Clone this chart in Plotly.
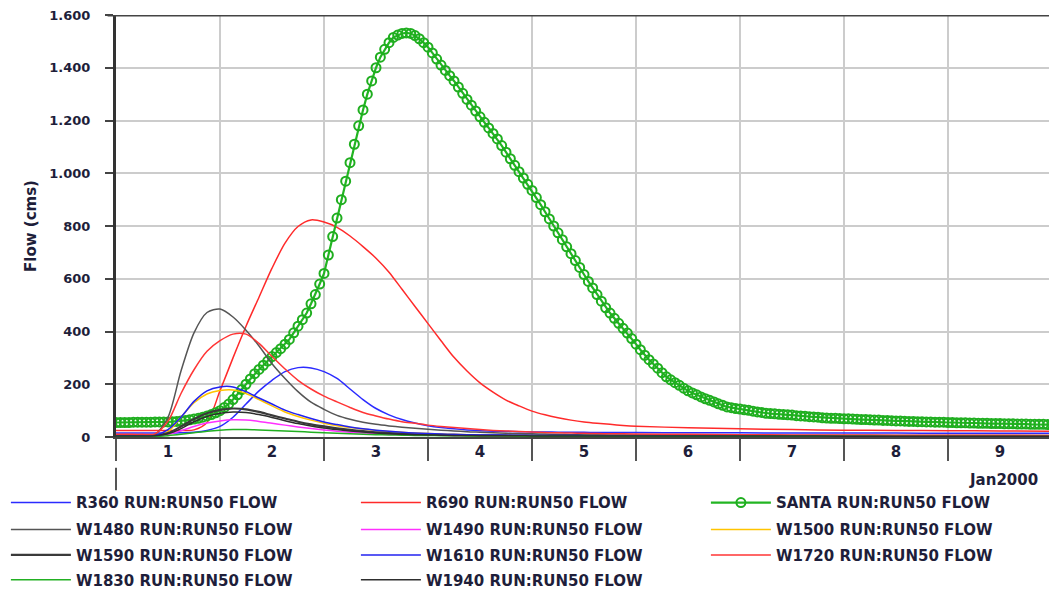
import pandas as pd
import plotly.graph_objects as go

# ---------------- data (hours after 2000-01-01 00:00) ----------------
SANTA_H = list(range(0, 217))
SANTA = [55, 55, 55, 55, 56, 56, 56, 56, 56, 57, 57, 57, 57, 58, 59, 61, 63, 65, 68, 71,
         75, 80, 85, 92, 100, 112, 125, 142, 160, 180, 200, 220, 240, 256, 272, 288, 305, 320, 335, 352,
         370, 395, 420, 445, 470, 505, 540, 580, 620, 690, 760, 830, 900, 970, 1040, 1110, 1180, 1240, 1300, 1350,
         1400, 1440, 1470, 1495, 1515, 1524, 1530, 1532, 1530, 1522, 1510, 1495, 1478, 1456, 1433, 1410, 1390, 1370, 1350, 1327,
         1303, 1280, 1258, 1236, 1214, 1193, 1172, 1151, 1130, 1105, 1080, 1055, 1030, 1006, 982, 958, 935, 908, 881, 854,
         827, 800, 774, 748, 721, 695, 669, 643, 616, 590, 565, 540, 515, 490, 470, 450, 431, 412, 394, 373,
         352, 331, 310, 293, 277, 261, 244, 228, 217, 206, 196, 185, 175, 167, 160, 152, 145, 139, 133, 126,
         120, 114, 111, 108, 106, 103, 101, 98, 95, 93, 90, 89, 88, 86, 85, 84, 83, 81, 80, 79,
         77, 76, 75, 73, 72, 71, 71, 70, 69, 69, 68, 67, 66, 66, 65, 64, 64, 63, 63, 62,
         61, 61, 60, 59, 59, 58, 58, 57, 57, 56, 56, 56, 55, 55, 54, 54, 54, 53, 53, 52,
         52, 52, 51, 51, 51, 50, 50, 50, 49, 49, 49, 48, 48, 48, 48, 47, 47]

TH = [0, 3, 6, 9, 12, 15, 18, 21, 24, 27, 30, 33, 36, 39, 42, 45, 48, 51, 54, 57,
      60, 63, 66, 69, 72, 75, 78, 81, 84, 87, 90, 93, 96, 99, 102, 105, 108, 111, 114, 117,
      120, 132, 144, 156, 168, 180, 192, 204, 216]

R360 = [15, 15, 15, 15, 15, 16, 18, 25, 40, 75, 125, 175, 215, 248, 263, 262, 248, 222, 182, 142,
        108, 84, 66, 53, 43, 36, 31, 27, 24, 22, 21, 20, 19, 19, 18, 18, 18, 17, 17, 17,
        17, 16, 16, 15, 15, 15, 14, 14, 14]
R690 = [25, 25, 25, 25, 25, 25, 27, 55, 175, 300, 420, 530, 640, 735, 798, 823, 815, 795, 762, 722,
        678, 625, 560, 495, 430, 365, 302, 250, 205, 170, 140, 118, 98, 84, 73, 64, 57, 52, 48, 44,
        41, 35, 31, 28, 26, 25, 24, 23, 22]
W1480 = [5, 5, 5, 10, 75, 250, 395, 472, 485, 455, 405, 345, 278, 222, 172, 132, 105, 82, 67, 56,
         48, 42, 37, 33, 29, 26, 23, 20, 18, 16, 14, 13, 12, 11, 10, 9, 8, 8, 7, 7,
         7, 6, 6, 5, 5, 5, 5, 5, 5]
W1490 = [3, 3, 3, 4, 10, 24, 40, 53, 61, 65, 64, 59, 52, 45, 38, 32, 27, 22, 18, 15,
         13, 11, 10, 9, 8, 7, 6, 6, 5, 5, 5, 4, 4, 4, 4, 4, 4, 4, 4, 4,
         4, 3, 3, 3, 3, 3, 3, 3, 3]
W1500 = [3, 3, 3, 4, 20, 75, 130, 163, 176, 178, 165, 142, 118, 95, 78, 64, 52, 43, 36, 30,
         25, 21, 18, 15, 13, 11, 10, 9, 8, 7, 6, 6, 5, 5, 5, 4, 4, 4, 4, 4,
         4, 3, 3, 3, 3, 3, 3, 3, 3]
W1590 = [5, 5, 5, 6, 15, 40, 68, 90, 103, 108, 105, 95, 82, 70, 58, 48, 40, 33, 27, 22,
         18, 15, 12, 10, 9, 8, 7, 7, 6, 6, 6, 5, 5, 5, 5, 5, 5, 5, 5, 5,
         5, 5, 5, 4, 4, 4, 4, 4, 4]
W1610 = [5, 5, 5, 6, 28, 75, 135, 175, 190, 190, 172, 148, 125, 102, 85, 70, 57, 47, 38, 31,
         26, 22, 18, 15, 13, 11, 10, 9, 8, 8, 7, 7, 6, 6, 6, 6, 5, 5, 5, 5,
         5, 5, 5, 5, 4, 4, 4, 4, 4]
W1720 = [10, 10, 10, 12, 60, 165, 255, 325, 365, 390, 390, 355, 305, 258, 215, 182, 155, 133, 112, 93,
         80, 68, 58, 52, 45, 40, 36, 32, 28, 25, 23, 21, 19, 17, 16, 15, 14, 13, 12, 12,
         11, 10, 9, 8, 8, 7, 7, 7, 6]
W1830 = [2, 2, 2, 2, 5, 10, 16, 22, 26, 28, 28, 27, 25, 23, 21, 18, 16, 14, 12, 10,
         9, 8, 7, 6, 6, 5, 5, 4, 4, 4, 4, 3, 3, 3, 3, 3, 3, 3, 3, 3,
         3, 3, 3, 3, 3, 2, 2, 2, 2]
W1940 = [4, 4, 4, 5, 12, 32, 58, 78, 90, 95, 93, 85, 74, 62, 51, 42, 34, 28, 23, 19,
         15, 12, 10, 9, 8, 7, 6, 6, 5, 5, 5, 5, 4, 4, 4, 4, 4, 4, 4, 4,
         4, 4, 4, 4, 3, 3, 3, 3, 3]

Y_TICKS = [0, 200, 400, 600, 800, 1000, 1200, 1400, 1600]

START = pd.Timestamp("2000-01-01 00:00")
def to_time(hours):
    return [START + pd.Timedelta(hours=h) for h in hours]

TXT = "#1e1e3a"
FONT = "DejaVu Sans, Verdana, sans-serif"

# (name, values, colour, width, legend row)
series = [
    ("R360 RUN:RUN50 FLOW", R360, "#2b2bff", 1.5, "legend"),
    ("R690 RUN:RUN50 FLOW", R690, "#ff2a2a", 1.5, "legend"),
    ("SANTA RUN:RUN50 FLOW", None, None, None, "legend"),
    ("W1480 RUN:RUN50 FLOW", W1480, "#555555", 1.5, "legend2"),
    ("W1490 RUN:RUN50 FLOW", W1490, "#ff30ff", 1.5, "legend2"),
    ("W1500 RUN:RUN50 FLOW", W1500, "#ffc400", 1.5, "legend2"),
    ("W1590 RUN:RUN50 FLOW", W1590, "#3a3a3a", 2.2, "legend3"),
    ("W1610 RUN:RUN50 FLOW", W1610, "#2222f0", 1.5, "legend3"),
    ("W1720 RUN:RUN50 FLOW", W1720, "#ff3535", 1.5, "legend3"),
    ("W1830 RUN:RUN50 FLOW", W1830, "#22b022", 1.5, "legend4"),
    ("W1940 RUN:RUN50 FLOW", W1940, "#2e2e2e", 1.5, "legend4"),
]

fig = go.Figure()
for name, vals, col, w, leg in series:
    if vals is None:
        fig.add_trace(go.Scatter(
            x=to_time(SANTA_H), y=SANTA, name=name, legend=leg,
            mode="lines+markers",
            line=dict(color="#22b522", width=2.2),
            marker=dict(symbol="circle-open", size=9, color="#1fae1f", line=dict(width=2)),
        ))
    else:
        fig.add_trace(go.Scatter(
            x=to_time(TH), y=vals, name=name, mode="lines", legend=leg,
            line=dict(color=col, width=w, shape="spline", smoothing=0.8),
        ))

leg_common = dict(
    orientation="h", x=-0.118, xanchor="left", yanchor="middle",
    entrywidth=275, entrywidthmode="pixels", itemwidth=60,
    font=dict(family=FONT, size=15, color=TXT, weight="bold"),
    bgcolor="rgba(0,0,0,0)", traceorder="normal",
)
ROW_Y = [-0.156, -0.220, -0.280, -0.339]

fig.update_layout(
    width=1049, height=591,
    margin=dict(l=116, r=0, t=15, b=154, autoexpand=False),
    paper_bgcolor="white", plot_bgcolor="white",
    separators=",.",
    font=dict(family=FONT, size=14, color=TXT),
    legend=dict(leg_common, y=ROW_Y[0]),
    legend2=dict(leg_common, y=ROW_Y[1]),
    legend3=dict(leg_common, y=ROW_Y[2]),
    legend4=dict(leg_common, y=ROW_Y[3]),
    xaxis=dict(
        type="date",
        range=[START, START + pd.Timedelta(hours=215.3)],
        tick0=START, dtick=86400000, tickformat="%-d", ticklabelmode="period",
        ticks="outside", ticklen=22, tickwidth=2, tickcolor="#555555",
        ticklabelstandoff=-22,
        showgrid=True, gridcolor="#cccccc", gridwidth=2,
        showline=True, linecolor="#444444", linewidth=2,
        tickfont=dict(family=FONT, size=15, color=TXT, weight="bold"),
        zeroline=False,
    ),
    yaxis=dict(
        range=[0, 1600], tickvals=Y_TICKS, tickformat=",d",
        ticks="outside", ticklen=8, tickwidth=2, tickcolor="#444444",
        showgrid=True, gridcolor="#cccccc", gridwidth=2,
        showline=True, linecolor="#333333", linewidth=3,
        tickfont=dict(family=FONT, size=13, color=TXT, weight="bold"),
        ticklabelstandoff=12,
        title=dict(text="Flow (cms)", standoff=10,
                   font=dict(family=FONT, size=15, color=TXT, weight="bold")),
        zeroline=False,
    ),
    shapes=[
        dict(type="line", xref="paper", yref="y", x0=-0.009, x1=1, y0=1600, y1=1600,
             line=dict(color="#444444", width=3), layer="above"),
        dict(type="line", xref="paper", yref="paper", x0=0, x1=0, y0=-0.073, y1=-0.126,
             line=dict(color="#555555", width=2)),
    ],
    annotations=[
        dict(text="Jan2000", xref="paper", yref="paper", x=0.990, y=-0.102,
             xanchor="right", yanchor="middle", showarrow=False,
             font=dict(family=FONT, size=15, color=TXT, weight="bold")),
    ],
)

fig.write_html("out.html")
